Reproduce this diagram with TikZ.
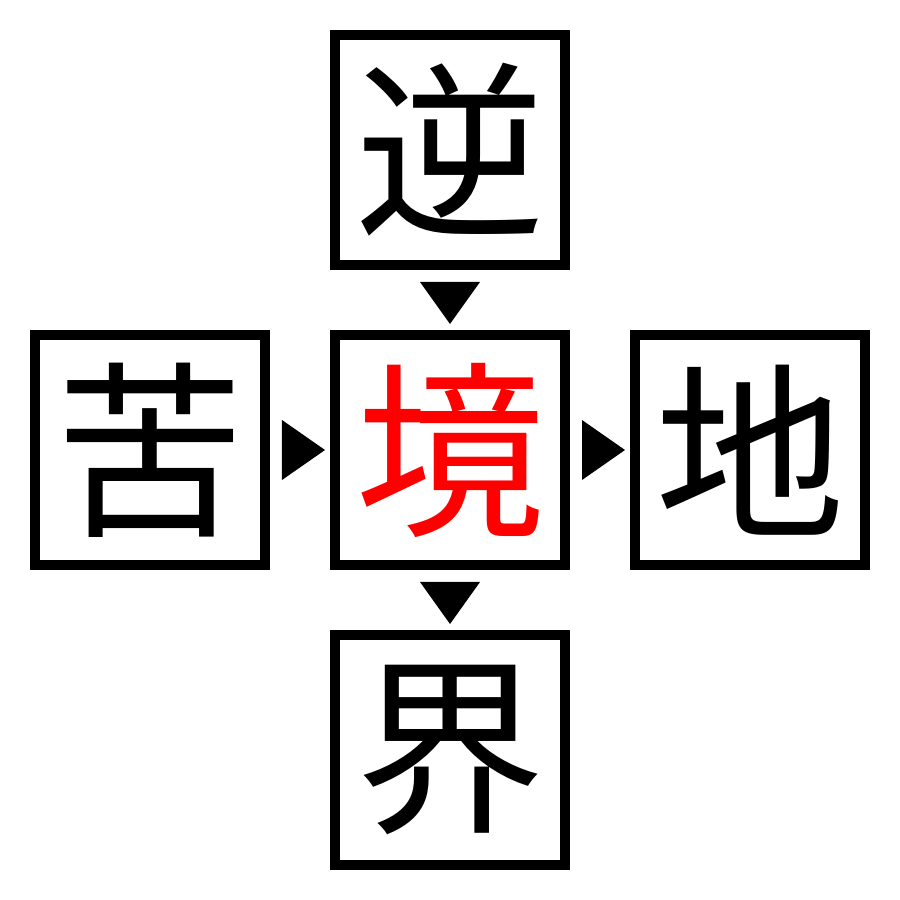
\documentclass[tikz,border=0pt]{standalone}
\usepackage{fontspec}
\newfontfamily\cjk{Noto Sans CJK JP}
\usetikzlibrary{positioning,calc}

\tikzset{
  kanji/.style={draw,line width=0.1cm,minimum size=2.3cm,inner sep=0pt,font=\cjk\fontsize{54}{54}\selectfont},
  pointer/.style={fill=black}
}

\begin{document}
\begin{tikzpicture}[node distance=0.6cm]

\useasboundingbox (0,0) rectangle (9,9);

%% the centre word and its four neighbours
\node (kyo) at (4.5,4.5) [kanji,text=red] {境};
\node (gyaku) [kanji,above=of kyo] {逆};
\node (kai) [kanji,below=of kyo] {界};
\node (ku) [kanji,left=of kyo] {苦};
\node (chi) [kanji,right=of kyo] {地};

%% the four pointers between the boxes
\fill[pointer] ($(gyaku.south)+(-0.3,-0.12)$) -- ++(0.6,0) -- ($(kyo.north)+(0,0.06)$) -- cycle;
\fill[pointer] ($(kyo.south)+(-0.3,-0.12)$) -- ++(0.6,0) -- ($(kai.north)+(0,0.06)$) -- cycle;
\fill[pointer] ($(ku.east)+(0.12,0.3)$) -- ++(0,-0.6) -- ($(kyo.west)+(-0.05,0)$) -- cycle;
\fill[pointer] ($(kyo.east)+(0.12,0.3)$) -- ++(0,-0.6) -- ($(chi.west)+(-0.05,0)$) -- cycle;

\end{tikzpicture}
\end{document}
